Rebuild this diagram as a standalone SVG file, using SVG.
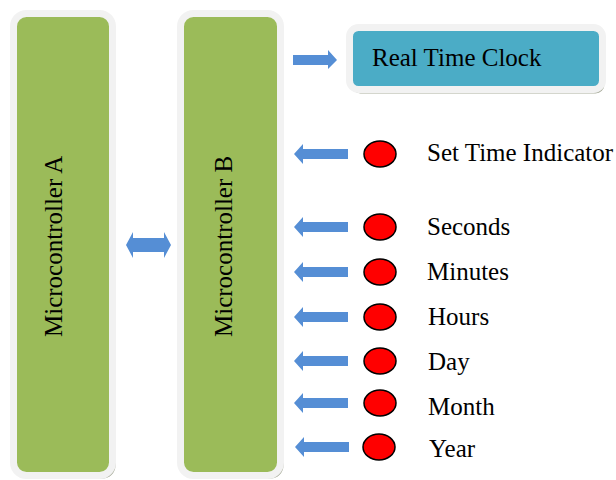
<svg xmlns="http://www.w3.org/2000/svg" width="616" height="480" viewBox="0 0 616 480">
<style>
.shadow{fill:#a9ad9c}
.mc{fill:#9bbb59;stroke:#f2f2f2;stroke-width:7}
.rtc{fill:#4bacc6;stroke:#f2f2f2;stroke-width:7}
.lbl{font-family:"Liberation Serif","Times New Roman",serif;font-size:25px;fill:#000}
.arr{fill:#558ed5}
.led{fill:#ff0000;stroke:#000;stroke-width:1.5}
</style>
<rect width="616" height="480" fill="#fff"/>
<g id="microcontroller-a">
<rect class="shadow" x="16.5" y="16.5" width="99" height="462" rx="13"/>
<rect class="mc" x="13.5" y="13.5" width="99" height="462" rx="13"/>
<text class="lbl" transform="translate(62,337) rotate(-90)">Microcontroller A</text>
</g>
<g id="microcontroller-b">
<rect class="shadow" x="183.5" y="16.5" width="100" height="462" rx="13"/>
<rect class="mc" x="180.5" y="13.5" width="100" height="462" rx="13"/>
<text class="lbl" transform="translate(232,337) rotate(-90)">Microcontroller B</text>
</g>
<g id="real-time-clock">
<rect class="shadow" x="351.5" y="31.5" width="253" height="62" rx="9"/>
<rect class="rtc" x="349.5" y="27.5" width="253" height="62" rx="9"/>
<text class="lbl" x="372" y="66">Real Time Clock</text>
</g>
<g id="set-time-indicator">
<ellipse class="led" cx="380" cy="154" rx="16" ry="13"/>
<text class="lbl" x="427" y="161">Set Time Indicator</text>
</g>
<g id="seconds">
<ellipse class="led" cx="380" cy="227" rx="16" ry="13"/>
<text class="lbl" x="427" y="235">Seconds</text>
</g>
<g id="minutes">
<ellipse class="led" cx="380" cy="272" rx="16" ry="13"/>
<text class="lbl" x="427" y="280">Minutes</text>
</g>
<g id="hours">
<ellipse class="led" cx="380" cy="317" rx="16" ry="13"/>
<text class="lbl" x="428" y="325">Hours</text>
</g>
<g id="day">
<ellipse class="led" cx="380" cy="361" rx="16" ry="13"/>
<text class="lbl" x="428" y="370">Day</text>
</g>
<g id="month">
<ellipse class="led" cx="380" cy="403" rx="16" ry="13"/>
<text class="lbl" x="428" y="415">Month</text>
</g>
<g id="year">
<ellipse class="led" cx="379" cy="447" rx="16" ry="13"/>
<text class="lbl" x="429" y="457">Year</text>
</g>
<g id="connectors">
<polygon class="arr" points="126,245 133,232 133,238 164,238 164,232 171,245 164,258 164,252 133,252 133,258"/>
<polygon class="arr" points="293,55 328,55 328,50 337,60 328,69 328,65 293,65"/>
<polygon class="arr" points="294,154 303,144 303,149 348,149 348,159 303,159 303,164"/>
<polygon class="arr" points="294,227 303,217 303,222 348,222 348,232 303,232 303,237"/>
<polygon class="arr" points="294,272 303,262 303,267 348,267 348,277 303,277 303,282"/>
<polygon class="arr" points="294,317 303,307 303,312 348,312 348,322 303,322 303,327"/>
<polygon class="arr" points="294,361 303,351 303,356 348,356 348,366 303,366 303,371"/>
<polygon class="arr" points="294,403 303,393 303,398 348,398 348,408 303,408 303,413"/>
<polygon class="arr" points="295,447 304,437 304,442 349,442 349,452 304,452 304,457"/>
</g>
</svg>
